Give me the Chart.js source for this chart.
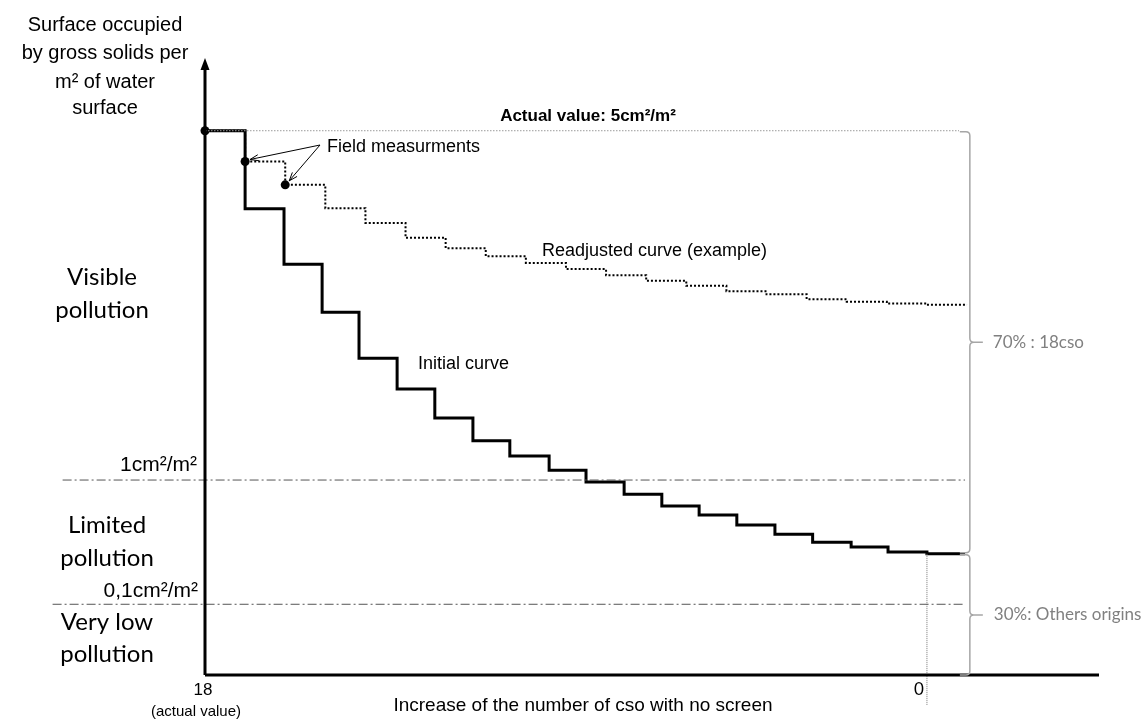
<!DOCTYPE html>
<html>
<head>
<meta charset="utf-8">
<script src="https://cdn.jsdelivr.net/npm/chart.js@4.4.1/dist/chart.umd.min.js"></script>
<style>
  html, body { margin: 0; padding: 0; background: #fff; }
  #wrap { width: 1148px; height: 722px; }
</style>
</head>
<body>
<div id="wrap"><canvas id="chart" width="1148" height="722"></canvas></div>
<script>
// x : number of cso with no screen (18 = actual value, 0 = every cso screened)
// y : relative level of surface occupied (0 = axis, 100 = top of the arrow)
const initialX = [18, 17, 16.03, 15.08, 14.16, 13.21, 12.27, 11.32, 10.4, 9.42, 8.5,
                  7.55, 6.61, 5.68, 4.74, 3.79, 2.85, 1.89, 0.97, 0, -0.95];
const initialY = [88.5, 75.8, 66.8, 59.0, 51.5, 46.5, 41.8, 38.1, 35.6, 33.3, 31.4,
                  29.4, 27.5, 26.0, 24.4, 22.9, 21.6, 20.8, 20.0, 19.7, 19.7];

const readjustedX = [18, 17, 16, 15, 14, 13, 12, 11, 10, 9, 8, 7, 6, 5, 4, 3, 2, 1, 0, -1];
const readjustedY = [88.5, 83.5, 79.7, 75.9, 73.5, 71.1, 69.4, 68.1, 67.0, 66.0,
                     65.0, 64.1, 63.3, 62.4, 61.9, 61.1, 60.7, 60.4, 60.2, 60.2];

const fieldX = [18, 17, 16];
const fieldY = [88.5, 83.5, 79.7];

const actualLevel = 88.5;   // 5cm²/m²
const level1 = 31.7;        // 1cm²/m²
const level01 = 11.5;       // 0,1cm²/m²

const xTicks = [18, 0];
const xTickLabels = ["18", "0"];

const ARIAL = '"Liberation Sans", Arial, sans-serif';
const CALIBRI = 'Lato, "Open Sans", sans-serif';

function pts(xs, ys) {
  return xs.map((x, i) => ({ x: x, y: ys[i] }));
}

function brace(ctx, x, y1, y2) {
  const ym = (y1 + y2) / 2;
  ctx.beginPath();
  ctx.moveTo(x - 10, y1);
  ctx.lineTo(x - 4, y1);
  ctx.quadraticCurveTo(x, y1, x, y1 + 4);
  ctx.lineTo(x, ym - 4);
  ctx.quadraticCurveTo(x, ym, x + 4, ym);
  ctx.quadraticCurveTo(x, ym, x, ym + 4);
  ctx.lineTo(x, y2 - 4);
  ctx.quadraticCurveTo(x, y2, x - 4, y2);
  ctx.lineTo(x - 10, y2);
  ctx.moveTo(x + 4, ym);
  ctx.lineTo(x + 13, ym);
  ctx.stroke();
  return ym;
}

function arrow(ctx, x0, y0, x1, y1) {
  const a = Math.atan2(y1 - y0, x1 - x0);
  ctx.beginPath();
  ctx.moveTo(x0, y0);
  ctx.lineTo(x1, y1);
  ctx.moveTo(x1 - 9 * Math.cos(a - 0.35), y1 - 9 * Math.sin(a - 0.35));
  ctx.lineTo(x1, y1);
  ctx.lineTo(x1 - 9 * Math.cos(a + 0.35), y1 - 9 * Math.sin(a + 0.35));
  ctx.stroke();
}

function text(ctx, str, x, y, font, align, color) {
  ctx.font = font;
  ctx.textAlign = align || "left";
  ctx.textBaseline = "middle";
  ctx.fillStyle = color || "#000";
  ctx.fillText(str, x, y);
}

const decorations = {
  id: "decorations",
  afterDatasetsDraw(chart) {
    const { ctx, chartArea: a, scales: { x, y } } = chart;
    ctx.save();

    // axes
    ctx.strokeStyle = "#000";
    ctx.lineWidth = 3;
    ctx.beginPath();
    ctx.moveTo(a.left, a.bottom);
    ctx.lineTo(a.right, a.bottom);
    ctx.moveTo(a.left, a.bottom);
    ctx.lineTo(a.left, a.top + 8);
    ctx.stroke();
    ctx.fillStyle = "#000";
    ctx.beginPath();
    ctx.moveTo(a.left, a.top - 2);
    ctx.lineTo(a.left - 4.5, a.top + 10);
    ctx.lineTo(a.left + 4.5, a.top + 10);
    ctx.closePath();
    ctx.fill();

    // braces on the right
    const bx = x.getPixelForValue(-1.07);
    ctx.strokeStyle = "#a6a6a6";
    ctx.lineWidth = 1.5;
    const last = initialY[initialY.length - 1];
    const m1 = brace(ctx, bx, y.getPixelForValue(actualLevel) + 1, y.getPixelForValue(last) - 1);
    const m2 = brace(ctx, bx, y.getPixelForValue(last) + 1, y.getPixelForValue(0));
    text(ctx, "70% : 18cso", bx + 23, m1, "17px " + CALIBRI, "left", "#808080");
    text(ctx, "30%: Others origins", bx + 24, m2, "17px " + CALIBRI, "left", "#808080");

    // field measurement arrows
    ctx.strokeStyle = "#000";
    ctx.lineWidth = 1;
    const cx = 320, cy = 145;
    arrow(ctx, cx, cy, x.getPixelForValue(fieldX[1]) + 5, y.getPixelForValue(fieldY[1]) - 2);
    arrow(ctx, cx, cy, x.getPixelForValue(fieldX[2]) + 4, y.getPixelForValue(fieldY[2]) - 4);

    // x tick labels
    xTicks.forEach((v, i) => {
      const px = x.getPixelForValue(v);
      if (v === 0) {
        text(ctx, xTickLabels[i], px - 3, a.bottom + 15, "17px " + CALIBRI, "right");
      } else {
        text(ctx, xTickLabels[i], px - 2, a.bottom + 15, "17px " + ARIAL, "center");
      }
    });
    text(ctx, "(actual value)", 196, a.bottom + 37, "15px " + ARIAL, "center");
    text(ctx, "Increase of the number of cso with no screen", 583, a.bottom + 31, "19px " + ARIAL, "center");

    // y axis title
    const tf = "20px " + ARIAL;
    text(ctx, "Surface occupied", 105, 25, tf, "center");
    text(ctx, "by gross solids per", 105, 53, tf, "center");
    text(ctx, "m² of water", 105, 82, tf, "center");
    text(ctx, "surface", 105, 108, tf, "center");

    // pollution zones
    const zf = "24px " + CALIBRI;
    text(ctx, "Visible", 102, 277, zf, "center");
    text(ctx, "pollution", 102, 310, zf, "center");
    text(ctx, "Limited", 107, 525, zf, "center");
    text(ctx, "pollution", 107, 558, zf, "center");
    text(ctx, "Very low", 107, 622, zf, "center");
    text(ctx, "pollution", 107, 654, zf, "center");

    const lf = "21px " + ARIAL;
    text(ctx, "1cm²/m²", 197, y.getPixelForValue(level1) - 15, lf, "right");
    text(ctx, "0,1cm²/m²", 198, y.getPixelForValue(level01) - 13, lf, "right");

    // curve annotations
    text(ctx, "Actual value: 5cm²/m²", 588, 116, "bold 17px " + ARIAL, "center");
    text(ctx, "Field measurments", 327, 147, "18px " + ARIAL, "left");
    text(ctx, "Readjusted curve (example)", 542, 251, "18px " + ARIAL, "left");
    text(ctx, "Initial curve", 418, 364, "18px " + ARIAL, "left");

    ctx.restore();
  }
};

new Chart(document.getElementById("chart"), {
  type: "line",
  data: {
    datasets: [
      {
        label: "Actual value",
        data: pts([18, -0.8], [actualLevel, actualLevel]),
        borderColor: "#9a9a9a",
        borderWidth: 1,
        borderDash: [1.5, 1.5],
        pointRadius: 0,
        clip: false
      },
      {
        label: "1cm²/m²",
        data: pts([21.55, -0.95], [level1, level1]),
        borderColor: "#555",
        borderWidth: 1,
        borderDash: [9, 3, 2, 3],
        pointRadius: 0,
        clip: false
      },
      {
        label: "0,1cm²/m²",
        data: pts([21.8, -0.95], [level01, level01]),
        borderColor: "#555",
        borderWidth: 1,
        borderDash: [9, 3, 2, 3],
        pointRadius: 0,
        clip: false
      },
      {
        label: "0",
        data: pts([0, 0], [initialY[initialY.length - 1], -4.9]),
        borderColor: "#777",
        borderWidth: 1,
        borderDash: [1, 1],
        pointRadius: 0,
        clip: false
      },
      {
        label: "Readjusted curve (example)",
        data: pts(readjustedX, readjustedY),
        stepped: "before",
        borderColor: "#000",
        borderWidth: 2,
        borderDash: [2, 2],
        pointRadius: 0
      },
      {
        label: "Initial curve",
        data: pts(initialX, initialY),
        stepped: "before",
        borderColor: "#000",
        borderWidth: 3,
        pointRadius: 0
      },
      {
        label: "Field measurments",
        data: pts(fieldX, fieldY),
        showLine: false,
        pointRadius: 4.5,
        pointBackgroundColor: "#000",
        pointBorderWidth: 0,
        clip: false
      }
    ]
  },
  options: {
    responsive: false,
    animation: false,
    devicePixelRatio: 1,
    layout: { padding: { left: 205, right: 49, top: 60, bottom: 47 } },
    plugins: { legend: { display: false }, tooltip: { enabled: false } },
    scales: {
      x: { type: "linear", reverse: true, min: -4.29, max: 18, display: false },
      y: { type: "linear", min: 0, max: 100, display: false }
    }
  },
  plugins: [decorations]
});
</script>
</body>
</html>
